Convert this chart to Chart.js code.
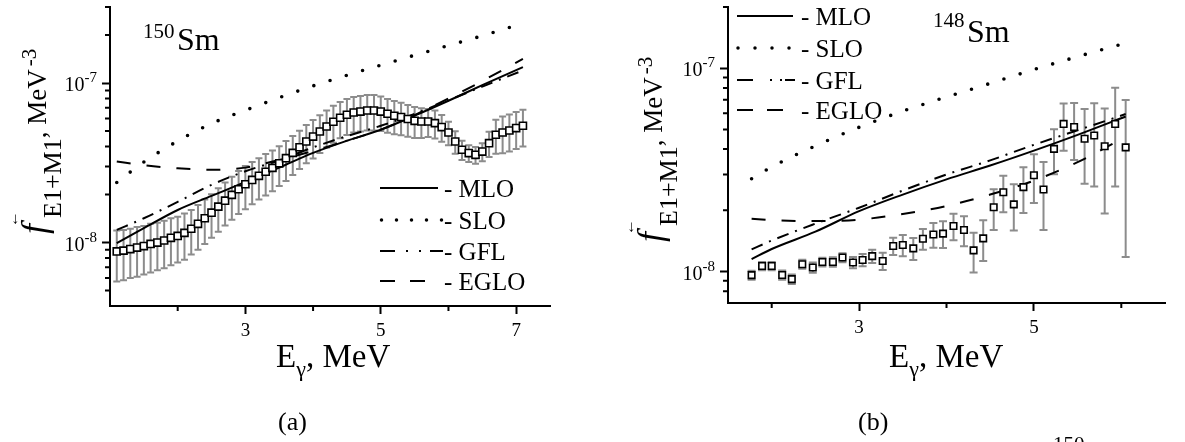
<!DOCTYPE html>
<html><head><meta charset="utf-8">
<script src="https://cdn.jsdelivr.net/npm/chart.js@4/dist/chart.umd.min.js"></script>
<style>
html,body{margin:0;padding:0;background:#fff;width:1185px;height:442px;overflow:hidden;position:relative;font-family:"Liberation Serif","Times New Roman",serif;color:#000}
canvas{position:absolute}
.abs{position:absolute;white-space:nowrap;line-height:1}
.ytitle{position:absolute;transform-origin:0 0;transform:rotate(-90deg);font-size:27px;line-height:27px;white-space:nowrap}
.ytitle .f{font-style:italic;font-size:36px;position:relative}
.ytitle .arr{position:absolute;left:7px;top:-15px;font-size:16px;font-style:normal}
.ytitle .sb{font-size:26px;position:relative;top:15px;margin-left:6px}
.ytitle .sp{font-size:21px;position:relative;top:-10px;margin-left:3px}
.xtitle{position:absolute;font-size:33px;line-height:1;white-space:nowrap}
.xtitle sub{font-size:22px;vertical-align:baseline;position:relative;top:9px}
.leg{position:absolute;font-size:25px;line-height:1;white-space:nowrap}
svg{position:absolute;overflow:visible}
</style></head>
<body>
<canvas id="cA" width="570" height="340" style="left:0;top:0;width:570px;height:340px"></canvas>
<canvas id="cB" width="585" height="340" style="left:600px;top:0;width:585px;height:340px"></canvas>

<!-- panel (a) texts -->
<div class="abs" style="left:143px;top:21px;font-size:21px">150</div>
<div class="abs" style="left:177px;top:23px;font-size:32px">Sm</div>
<div class="ytitle" style="left:21px;top:234px"><span class="f">f<span class="arr">←</span></span><span class="sb">E1+M1</span>, MeV<span class="sp">-3</span></div>
<div class="xtitle" style="left:276px;top:340px">E<sub>γ</sub>, MeV</div>
<div class="abs" style="left:278px;top:409px;font-size:26px">(a)</div>
<svg style="left:0;top:0" width="1" height="1">
  <line x1="380" y1="188" x2="438" y2="188" stroke="#000" stroke-width="2"/>
  <line x1="381.5" y1="220" x2="442" y2="220" stroke="#000" stroke-width="3.5" stroke-linecap="round" stroke-dasharray="0 15"/>
  <path d="M380 251 h15 M406 251 h2 M419 251 h2 M430 251 h13" stroke="#000" stroke-width="2"/>
  <path d="M380 281 h15 M410 281 h15" stroke="#000" stroke-width="2"/>
  <line x1="737" y1="16" x2="793" y2="16" stroke="#000" stroke-width="2"/>
  <line x1="738" y1="48" x2="792" y2="48" stroke="#000" stroke-width="3.5" stroke-linecap="round" stroke-dasharray="0 17"/>
  <path d="M737 80 h16 M770 80 h2 M780 80 h2 M785 80 h10" stroke="#000" stroke-width="2"/>
  <path d="M737 110 h16 M767 110 h16" stroke="#000" stroke-width="2"/>
</svg>
<div class="leg" style="left:444px;top:176px">- MLO</div>
<div class="leg" style="left:444px;top:208px">- SLO</div>
<div class="leg" style="left:444px;top:239px">- GFL</div>
<div class="leg" style="left:444px;top:269px">- EGLO</div>

<!-- panel (b) texts -->
<div class="abs" style="left:933px;top:10px;font-size:21px">148</div>
<div class="abs" style="left:967px;top:15px;font-size:32px">Sm</div>
<div class="ytitle" style="left:637px;top:242px"><span class="f">f<span class="arr">←</span></span><span class="sb">E1+M1</span>, MeV<span class="sp">-3</span></div>
<div class="xtitle" style="left:889px;top:340px">E<sub>γ</sub>, MeV</div>
<div class="abs" style="left:858px;top:409px;font-size:26px">(b)</div>
<div class="leg" style="left:801px;top:4px">- MLO</div>
<div class="leg" style="left:801px;top:36px">- SLO</div>
<div class="leg" style="left:801px;top:68px">- GFL</div>
<div class="leg" style="left:801px;top:98px">- EGLO</div>

<div class="abs" style="left:1053px;top:434px;font-size:21px">150</div>

<script>
const UNIT = 1e-8; // values below are in units of 1e-8 MeV^-3

// ---------- Panel (a): 150Sm ----------
const energyA = [1.1,1.2,1.3,1.4,1.5,1.6,1.7,1.8,1.9,2.0,2.1,2.2,2.3,2.4,2.5,2.6,2.7,2.8,2.9,3.0,
  3.1,3.2,3.3,3.4,3.5,3.6,3.7,3.8,3.9,4.0,4.1,4.2,4.3,4.4,4.5,4.6,4.7,4.8,4.9,5.0,
  5.1,5.2,5.3,5.4,5.5,5.6,5.7,5.8,5.9,6.0,6.1,6.2,6.3,6.4,6.5,6.6,6.7,6.8,6.9,7.0,7.1];
const strengthA = [0.88,0.89,0.91,0.93,0.95,0.98,1.00,1.03,1.07,1.10,1.15,1.22,1.31,1.42,1.54,1.68,1.83,1.99,2.16,2.32,
  2.47,2.62,2.78,2.94,3.14,3.38,3.65,3.96,4.30,4.62,4.97,5.34,5.72,6.06,6.33,6.54,6.63,6.73,6.73,6.63,
  6.42,6.24,6.12,5.95,5.80,5.74,5.74,5.61,5.30,4.90,4.30,3.82,3.64,3.55,3.72,4.20,4.74,4.90,5.04,5.22,5.40];
const errorA = [0.31,0.31,0.31,0.32,0.32,0.33,0.33,0.34,0.35,0.35,0.37,0.38,0.41,0.44,0.47,0.51,0.55,0.60,0.65,0.70,
  0.73,0.76,0.81,0.84,0.88,0.95,1.00,1.07,1.16,1.25,1.32,1.39,1.49,1.55,1.61,1.64,1.66,1.68,1.68,1.62,
  1.54,1.47,1.41,1.34,1.28,1.21,1.15,1.12,1.01,0.83,0.69,0.53,0.44,0.43,0.48,0.76,1.14,1.27,1.31,1.36,1.40];
const curveEnergyA = [1.1,1.5,2.0,2.5,3.0,3.5,4.0,4.5,5.0,5.5,6.0,6.5,7.1];
const mloA  = [0.99,1.23,1.60,1.96,2.40,2.95,3.65,4.35,5.10,6.25,7.75,9.7,12.6];
const sloA  = [2.38,3.20,4.33,5.58,6.75,8.10,9.60,11.2,12.95,14.95,17.2,19.8,23.7];
const gflA  = [1.20,1.42,1.80,2.30,2.80,3.28,3.95,4.65,5.40,6.40,7.80,9.5,12.0];
const egloA = [3.22,3.05,2.92,2.86,2.95,3.30,3.75,4.35,5.10,6.30,8.0,10.3,14.2];
const xTicksA = [3,5,7];
const xMinorA = [2,4,6];
const yTicksA = [1,10];
const yMinorA = [0.5,0.6,0.7,0.8,0.9,2,3,4,5,6,7,8,9,20,30];

// ---------- Panel (b): 148Sm ----------
const energyB = [1.77,1.89,2.00,2.12,2.23,2.35,2.47,2.58,2.70,2.81,2.93,3.04,3.15,3.27,3.39,3.50,3.62,3.73,3.85,3.96,
  4.08,4.20,4.31,4.42,4.54,4.65,4.77,4.88,5.00,5.11,5.23,5.34,5.46,5.58,5.69,5.81,5.93,6.05];
const strengthB = [0.96,1.065,1.065,0.962,0.917,1.086,1.046,1.114,1.114,1.171,1.107,1.14,1.19,1.127,1.335,1.35,1.30,1.45,1.52,1.535,
  1.673,1.60,1.27,1.456,2.07,2.455,2.14,2.60,2.975,2.53,4.01,5.32,5.14,4.50,4.67,4.13,5.32,4.08];
const errorB = [0.05,0.05,0.05,0.05,0.05,0.055,0.06,0.055,0.06,0.06,0.07,0.08,0.09,0.11,0.13,0.16,0.16,0.17,0.21,0.23,
  0.25,0.27,0.28,0.33,0.47,0.50,0.55,0.66,0.80,0.93,1.00,1.39,1.60,1.80,2.05,2.20,2.70,2.90];
const curveEnergyB = [1.77,2.0,2.5,3.0,3.5,4.0,4.5,5.0,5.5,6.05];
const mloB  = [1.15,1.29,1.57,1.98,2.39,2.84,3.32,3.93,4.70,5.79];
const sloB  = [2.86,3.27,4.15,5.12,6.15,7.22,8.42,9.85,11.4,13.3];
const gflB  = [1.285,1.42,1.72,2.06,2.50,3.00,3.52,4.20,4.95,5.95];
const egloB = [1.82,1.79,1.77,1.80,1.92,2.10,2.39,2.80,3.45,4.60];
const xTicksB = [3,5];
const xMinorB = [2,4,6];
const yTicksB = [1,10];
const yMinorB = [0.8,0.9,2,3,4,5,6,7,8,9,20];

function pts(xs, vs){ return xs.map((x,i)=>({x:x, y:vs[i]*UNIT})); }

const errorBars = {
  id:'errorBars',
  beforeDatasetsDraw(chart, args, o){
    const ctx = chart.ctx, x = chart.scales.x, y = chart.scales.y, a = chart.chartArea;
    ctx.save();
    ctx.beginPath(); ctx.rect(a.left, a.top, a.right-a.left, a.bottom-a.top); ctx.clip();
    ctx.strokeStyle = o.color; ctx.lineWidth = o.width;
    o.xs.forEach((xv,i)=>{
      const px = x.getPixelForValue(xv);
      const pt = y.getPixelForValue((o.vs[i]+o.es[i])*UNIT);
      const pb = y.getPixelForValue(Math.max(o.vs[i]-o.es[i],0.01)*UNIT);
      ctx.beginPath();
      ctx.moveTo(px,pt); ctx.lineTo(px,pb);
      ctx.moveTo(px-o.cap,pt); ctx.lineTo(px+o.cap,pt);
      ctx.moveTo(px-o.cap,pb); ctx.lineTo(px+o.cap,pb);
      ctx.stroke();
    });
    ctx.restore();
  }
};
// minor tick marks + power-of-ten labels (base and raised exponent) on the library's scales
const axisExtras = {
  id:'axisExtras',
  afterDraw(chart, args, o){
    const ctx = chart.ctx, x = chart.scales.x, y = chart.scales.y, a = chart.chartArea;
    ctx.save(); ctx.strokeStyle='#000'; ctx.lineWidth=2; ctx.beginPath();
    o.x.forEach(v=>{ const p=x.getPixelForValue(v); ctx.moveTo(p,a.bottom); ctx.lineTo(p,a.bottom+o.len+1); });
    o.y.forEach(v=>{ const p=y.getPixelForValue(v*UNIT); ctx.moveTo(a.left,p); ctx.lineTo(a.left-o.len-1,p); });
    ctx.stroke();
    ctx.fillStyle='#000'; ctx.textAlign='right'; ctx.textBaseline='alphabetic';
    o.yLabels.forEach(v=>{
      const p = y.getPixelForValue(v*UNIT);
      const exp = '-' + String(-Math.round(Math.log10(v*UNIT)));
      const xr = a.left - 13;
      ctx.font = '15px "Liberation Serif"';
      const w = ctx.measureText(exp).width;
      ctx.fillText(exp, xr, p - 1);
      ctx.font = '20px "Liberation Serif"';
      ctx.fillText('10', xr - w, p + 8);
    });
    ctx.restore();
  }
};

const STY = {
  mlo:{borderWidth:2},
  slo:{borderWidth:3.6, borderDash:[0,17], borderCapStyle:'round'},
  gfl:{borderWidth:2, borderDash:[12,7,2,7]},
  eglo:{borderWidth:2, borderDash:[14,16]}
};
function lineDs(xs, vs, s){
  return Object.assign({data:pts(xs,vs), showLine:true, pointRadius:0, borderColor:'#000',
    backgroundColor:'#000', fill:false, cubicInterpolationMode:'monotone', order:2}, s);
}

function makeChart(id, p){
  return new Chart(document.getElementById(id), {
    type:'scatter',
    data:{datasets:[
      {data:pts(p.ex,p.ev), pointStyle:'rect', pointRadius:p.pr, pointBorderWidth:1.6,
        pointBorderColor:'#000', pointBackgroundColor:'#fff', showLine:false, order:0},
      lineDs(p.cx,p.mlo,STY.mlo),
      lineDs(p.cx,p.slo,STY.slo),
      lineDs(p.cx,p.gfl,STY.gfl),
      lineDs(p.cx,p.eglo,STY.eglo)
    ]},
    options:{
      responsive:false, animation:false, devicePixelRatio:1, events:[],
      layout:{padding:{top:7,right:p.padR,left:0,bottom:0}},
      plugins:{legend:{display:false}, tooltip:{enabled:false},
        errorBars:{xs:p.ex, vs:p.ev, es:p.ee, color:'#8c8c8c', width:2, cap:p.cap},
        axisExtras:{x:p.xMinor, y:p.yMinor, len:4, yLabels:p.yTicks}},
      scales:{
        x:{type:'linear', min:p.xmin, max:p.xmax,
          afterBuildTicks:s=>{ s.ticks = p.xTicks.map(v=>({value:v})); },
          afterFit:s=>{ s.height = p.xh; },
          ticks:{font:{family:'Liberation Serif', size:19}, color:'#000', padding:6, autoSkip:false, maxRotation:0},
          grid:{display:true, drawOnChartArea:false, drawTicks:true, tickLength:8, tickWidth:2, tickColor:'#000'},
          border:{display:true, color:'#000', width:2}},
        y:{type:'logarithmic', min:p.ymin*UNIT, max:p.ymax*UNIT,
          afterBuildTicks:s=>{ s.ticks = p.yTicks.map(v=>({value:v*UNIT})); },
          afterFit:s=>{ s.width = p.yw; },
          ticks:{display:false},
          grid:{display:true, drawOnChartArea:false, drawTicks:true, tickLength:8, tickWidth:2, tickColor:'#000'},
          border:{display:true, color:'#000', width:2}}
      }
    },
    plugins:[errorBars, axisExtras]
  });
}

makeChart('cA', {ex:energyA, ev:strengthA, ee:errorA, cx:curveEnergyA, mlo:mloA, slo:sloA, gfl:gflA, eglo:egloA,
  xmin:1, xmax:7.5, ymin:0.4, ymax:30, xTicks:xTicksA, xMinor:xMinorA, yTicks:yTicksA, yMinor:yMinorA,
  padR:20, yw:110, xh:34, pr:5, cap:3.5});
makeChart('cB', {ex:energyB, ev:strengthB, ee:errorB, cx:curveEnergyB, mlo:mloB, slo:sloB, gfl:gflB, eglo:egloB,
  xmin:1.5, xmax:6.5, ymin:0.7, ymax:20, xTicks:xTicksB, xMinor:xMinorB, yTicks:yTicksB, yMinor:yMinorB,
  padR:20, yw:128, xh:37, pr:4.6, cap:4});
</script>
</body></html>
